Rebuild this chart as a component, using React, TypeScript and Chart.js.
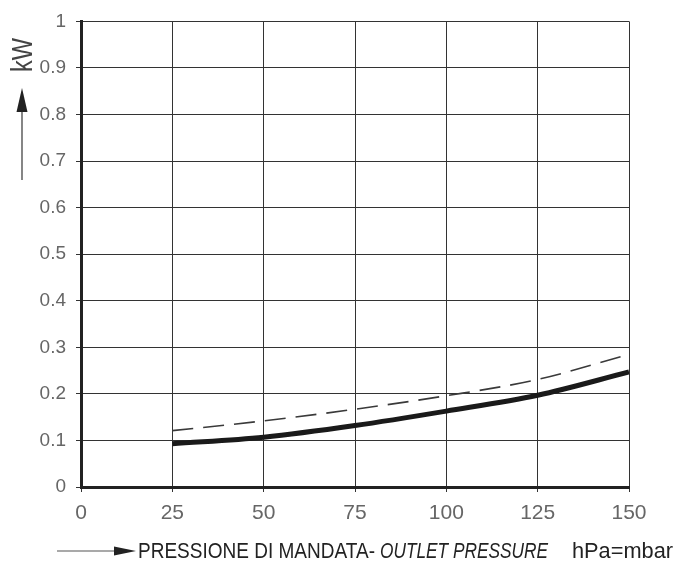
import React, { useEffect, useRef } from "react";
import { Chart, registerables } from "chart.js";

Chart.register(...registerables);

// Outlet pressure (hPa = mbar)
const pressures = [25, 50, 75, 100, 125, 150];
// Absorbed power, kW
const solidPower = [0.093, 0.107, 0.132, 0.163, 0.197, 0.247];
const dashedPower = [0.121, 0.142, 0.167, 0.196, 0.231, 0.285];

const xMin = 0;
const xMax = 150;
const xStep = 25;
const yMin = 0;
const yMax = 1;
const yStep = 0.1;

const yTitle = "kW";
const xTitleMain = "PRESSIONE DI MANDATA-";
const xTitleItalic = "OUTLET PRESSURE";
const xTitleUnit = "hPa=mbar";

function drawFit(
  ctx: CanvasRenderingContext2D,
  text: string,
  x: number,
  y: number,
  width: number,
  font: string
) {
  ctx.save();
  ctx.font = font;
  ctx.textAlign = "left";
  ctx.textBaseline = "alphabetic";
  const w = ctx.measureText(text).width || 1;
  ctx.translate(x, y);
  ctx.scale(width / w, 1);
  ctx.fillText(text, 0, 0);
  ctx.restore();
}

const titlePlugin = {
  id: "titles",
  afterDraw(chart: any) {
    const ctx: CanvasRenderingContext2D = chart.ctx;
    ctx.save();
    // Y title: rotated kW
    ctx.fillStyle = "#444";
    ctx.save();
    ctx.translate(32, 72);
    ctx.rotate(-Math.PI / 2);
    drawFit(ctx, yTitle, 0, 0, 34, '29px "Liberation Sans", Arial, sans-serif');
    ctx.restore();
    // Y arrow
    ctx.strokeStyle = "#444";
    ctx.lineWidth = 1.3;
    ctx.beginPath();
    ctx.moveTo(22, 180);
    ctx.lineTo(22, 108);
    ctx.stroke();
    ctx.fillStyle = "#222";
    ctx.beginPath();
    ctx.moveTo(22, 88);
    ctx.lineTo(16.5, 112);
    ctx.lineTo(27.5, 112);
    ctx.closePath();
    ctx.fill();

    // X arrow
    ctx.strokeStyle = "#555";
    ctx.lineWidth = 1.2;
    ctx.beginPath();
    ctx.moveTo(57, 551);
    ctx.lineTo(120, 551);
    ctx.stroke();
    ctx.fillStyle = "#222";
    ctx.beginPath();
    ctx.moveTo(136, 551);
    ctx.lineTo(114, 546.5);
    ctx.lineTo(114, 555.5);
    ctx.closePath();
    ctx.fill();

    // X title
    ctx.fillStyle = "#222";
    const base = 558;
    drawFit(ctx, xTitleMain, 138, base, 237, '22px "Liberation Sans Narrow", "Liberation Sans", Arial, sans-serif');
    drawFit(ctx, xTitleItalic, 380, base, 168, 'italic 22px "Liberation Sans Narrow", "Liberation Sans", Arial, sans-serif');
    drawFit(ctx, xTitleUnit, 572, base, 101, '22px "Liberation Sans Narrow", "Liberation Sans", Arial, sans-serif');
    ctx.restore();
  },
};

export default function App() {
  const ref = useRef<HTMLCanvasElement | null>(null);

  useEffect(() => {
    document.body.style.margin = "0";
    const canvas = ref.current;
    if (!canvas) return;
    const chart = new Chart(canvas, {
      type: "line",
      data: {
        datasets: [
          {
            label: "solid",
            data: pressures.map((p, i) => ({ x: p, y: solidPower[i] })),
            borderColor: "#1a1a1a",
            borderWidth: 5,
            pointRadius: 0,
            fill: false,
            cubicInterpolationMode: "monotone",
            borderCapStyle: "butt",
          },
          {
            label: "dashed",
            data: pressures.map((p, i) => ({ x: p, y: dashedPower[i] })),
            borderColor: "#3a3a3a",
            borderWidth: 1.6,
            borderDash: [21, 10],
            pointRadius: 0,
            fill: false,
            cubicInterpolationMode: "monotone",
          },
        ],
      },
      options: {
        animation: false,
        responsive: false,
        devicePixelRatio: 1,
        layout: { padding: { left: 0, right: 47, top: 16, bottom: 0 } },
        plugins: {
          legend: { display: false },
          tooltip: { enabled: false },
          title: { display: false },
        },
        scales: {
          x: {
            type: "linear",
            min: xMin,
            max: xMax,
            ticks: {
              stepSize: xStep,
              color: "#666",
              padding: 9,
              font: { family: '"Liberation Sans", Arial, sans-serif', size: 21 },
            },
            grid: { color: "#333", lineWidth: 1, tickLength: 5 },
            border: { color: "#222", width: 3 },
            afterFit: (s: any) => {
              s.height = 74;
            },
          },
          y: {
            type: "linear",
            min: yMin,
            max: yMax,
            ticks: {
              stepSize: yStep,
              color: "#666",
              padding: 10,
              font: { family: '"Liberation Sans", Arial, sans-serif', size: 19 },
              callback: (v: any) => String(Number(Number(v).toFixed(1))),
            },
            grid: { color: "#333", lineWidth: 1, tickLength: 5 },
            border: { color: "#222", width: 3 },
            afterFit: (s: any) => {
              s.width = 81;
            },
          },
        },
      },
      plugins: [titlePlugin],
    });
    return () => chart.destroy();
  }, []);

  return (
    <div style={{ width: 676, height: 561, background: "#fff" }}>
      <canvas ref={ref} width={676} height={561} style={{ display: "block" }} />
    </div>
  );
}
